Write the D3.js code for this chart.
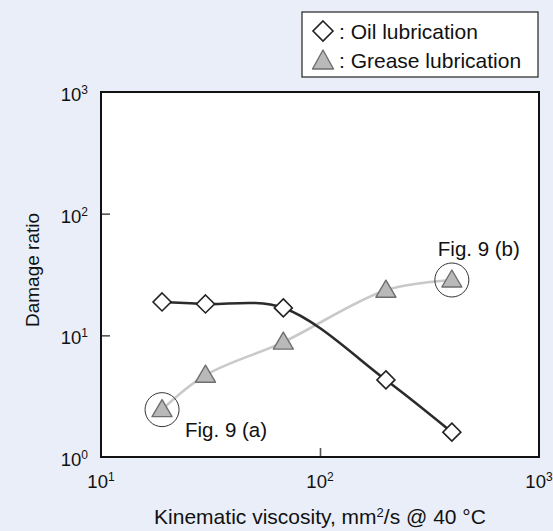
<!DOCTYPE html>
<html>
<head>
<meta charset="utf-8">
<script src="https://cdn.jsdelivr.net/npm/d3@7"></script>
<style>
  html, body { margin: 0; padding: 0; background: #e9eef8; }
  svg { display: block; font-family: "Liberation Sans", Arial, Helvetica, sans-serif; }
</style>
</head>
<body>
<svg id="chart" width="553" height="531"></svg>
<script>
// Kinematic viscosity (mm²/s @ 40 °C) for each test point
const oilViscosity = [19, 30, 68, 200, 400];
const oilDamage = [18.8, 18.1, 16.8, 4.3, 1.6];

const greaseViscosity = [19, 30, 68, 200, 400];
const greaseDamage = [2.45, 4.7, 8.8, 23.5, 28.5];

// Decade ticks for both log axes
const xTicks = [10, 100, 1000];
const yTicks = [1, 10, 100, 1000];

// Points that are circled and annotated
const callouts = [
  { series: "grease", index: 0, label: "Fig. 9 (a)" },
  { series: "grease", index: 4, label: "Fig. 9 (b)" }
];

const svg = d3.select("#chart");
const plot = { left: 101, right: 539, top: 92, bottom: 457 };

const x = d3.scaleLog().domain([10, 1000]).range([plot.left, plot.right]);
const y = d3.scaleLog().domain([1, 1000]).range([plot.bottom, plot.top]);

// Plot background
svg.append("rect")
  .attr("x", plot.left).attr("y", plot.top)
  .attr("width", plot.right - plot.left).attr("height", plot.bottom - plot.top)
  .attr("fill", "#ffffff");

// Inward ticks at interior decades
svg.append("g").attr("transform", `translate(${plot.left},0)`)
  .call(d3.axisRight(y).tickValues(yTicks.slice(1, -1)).tickSize(9).tickFormat(""))
  .call(g => g.select(".domain").remove())
  .call(g => g.selectAll("line").attr("stroke", "#555").attr("stroke-width", 1.6));

svg.append("g").attr("transform", `translate(0,${plot.bottom})`)
  .call(d3.axisTop(x).tickValues(xTicks.slice(1, -1)).tickSize(9).tickFormat(""))
  .call(g => g.select(".domain").remove())
  .call(g => g.selectAll("line").attr("stroke", "#555").attr("stroke-width", 1.6));

// Frame
svg.append("rect")
  .attr("x", plot.left).attr("y", plot.top)
  .attr("width", plot.right - plot.left).attr("height", plot.bottom - plot.top)
  .attr("fill", "none").attr("stroke", "#111").attr("stroke-width", 2);

// Tick labels as 10 with superscript exponent
function powerLabel(g, v) {
  const exp = String(Math.round(Math.log10(v)));
  const t = g.append("text").attr("fill", "#111").attr("font-size", 18.5);
  t.append("tspan").text("10");
  t.append("tspan").attr("font-size", 12).attr("dy", -7).text(exp);
  return t;
}

yTicks.forEach(v => {
  powerLabel(svg.append("g"), v).attr("x", 88).attr("y", y(v) + 9).attr("text-anchor", "end");
});

xTicks.forEach(v => {
  powerLabel(svg.append("g"), v).attr("x", x(v)).attr("y", 488).attr("text-anchor", "middle");
});

// Axis titles
svg.append("text")
  .attr("transform", `translate(39,270) rotate(-90)`)
  .attr("text-anchor", "middle").attr("font-size", 19).attr("fill", "#111")
  .text("Damage ratio");

const xt = svg.append("text")
  .attr("x", 320).attr("y", 524).attr("text-anchor", "middle")
  .attr("font-size", 21).attr("fill", "#111");
xt.append("tspan").text("Kinematic viscosity, mm");
xt.append("tspan").attr("font-size", 13).attr("dy", -7).text("2");
xt.append("tspan").attr("dy", 7).text("/s @ 40 \u00b0C");

// Series curves
const line = d3.line()
  .x(d => x(d[0])).y(d => y(d[1]))
  .curve(d3.curveCatmullRom.alpha(0.5));

const oil = oilViscosity.map((v, i) => [v, oilDamage[i]]);
const grease = greaseViscosity.map((v, i) => [v, greaseDamage[i]]);

svg.append("path").datum(grease).attr("d", line)
  .attr("fill", "none").attr("stroke", "#c9c9c9").attr("stroke-width", 2.6);
svg.append("path").datum(oil).attr("d", line)
  .attr("fill", "none").attr("stroke", "#2b2b2b").attr("stroke-width", 2.6);

// Marker shapes
const diamond = "M0,-9 L9,0 L0,9 L-9,0 Z";
const triangle = "M0,-10 L10,7 L-10,7 Z";
const legendTriangle = "M0,-11 L10.5,8 L-10.5,8 Z";
const legendDiamond = "M0,-10 L10,0 L0,10 L-10,0 Z";

svg.append("g").selectAll("path").data(grease).join("path")
  .attr("transform", d => `translate(${x(d[0])},${y(d[1])})`)
  .attr("d", triangle)
  .attr("fill", "#b9b9b9").attr("stroke", "#6e6e6e").attr("stroke-width", 1.4)
  .attr("stroke-linejoin", "round");

svg.append("g").selectAll("path").data(oil).join("path")
  .attr("transform", d => `translate(${x(d[0])},${y(d[1])})`)
  .attr("d", diamond)
  .attr("fill", "#ffffff").attr("stroke", "#222").attr("stroke-width", 1.6);

// Circled callouts with labels
const seriesData = { oil, grease };
callouts.forEach(c => {
  const d = seriesData[c.series][c.index];
  svg.append("circle").attr("cx", x(d[0])).attr("cy", y(d[1])).attr("r", 17)
    .attr("fill", "none").attr("stroke", "#333").attr("stroke-width", 1);
});
svg.append("text").attr("x", x(grease[0][0]) + 23).attr("y", y(grease[0][1]) + 27)
  .attr("font-size", 20.5).attr("fill", "#111").text(callouts[0].label);
svg.append("text").attr("x", x(grease[4][0]) + 68).attr("y", y(grease[4][1]) - 24)
  .attr("text-anchor", "end")
  .attr("font-size", 20.5).attr("fill", "#111").text(callouts[1].label);

// Legend
const legend = svg.append("g");
legend.append("rect").attr("x", 302).attr("y", 12).attr("width", 236).attr("height", 65)
  .attr("fill", "#ffffff").attr("stroke", "#222").attr("stroke-width", 1.2);
legend.append("path").attr("transform", "translate(323,31)").attr("d", legendDiamond)
  .attr("fill", "#ffffff").attr("stroke", "#222").attr("stroke-width", 1.6);
legend.append("path").attr("transform", "translate(323,61)").attr("d", legendTriangle)
  .attr("fill", "#b9b9b9").attr("stroke", "#6e6e6e").attr("stroke-width", 1.4)
  .attr("stroke-linejoin", "round");
legend.append("text").attr("x", 339).attr("y", 39).attr("font-size", 21).attr("fill", "#111")
  .text(": Oil lubrication");
legend.append("text").attr("x", 339).attr("y", 68).attr("font-size", 21).attr("fill", "#111")
  .text(": Grease lubrication");
</script>
</body>
</html>
